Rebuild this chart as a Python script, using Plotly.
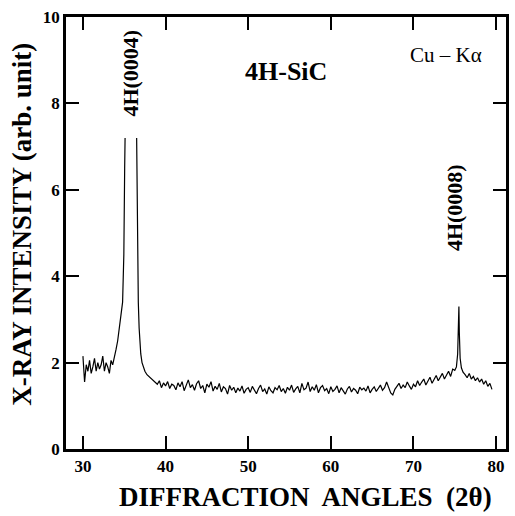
import plotly.graph_objects as go

# ---- data ----
left_angle = [30.0, 30.2, 30.4, 30.6, 30.8, 31.0, 31.2, 31.4, 31.6, 31.8, 32.0, 32.2, 32.4, 32.6,
              32.8, 33.0, 33.2, 33.4, 33.6, 33.8, 34.0, 34.2, 34.4, 34.6, 34.8, 34.95, 35.05, 35.1]
left_int = [2.15, 1.55, 1.95, 1.80, 2.05, 1.75, 1.90, 2.10, 1.80, 2.00, 1.85, 1.95, 2.15, 1.80,
            2.00, 1.90, 1.75, 2.05, 1.95, 2.10, 2.30, 2.50, 2.75, 3.10, 3.40, 4.50, 6.50, 7.20]

flank_angle = [36.5, 36.55, 36.6, 36.7, 36.8, 36.9, 37.0, 37.15, 37.3, 37.5, 37.75, 38.0, 38.25]
flank_int = [7.2, 5.5, 4.3, 3.4, 2.8, 2.45, 2.2, 2.0, 1.9, 1.8, 1.72, 1.68, 1.62]

bg_angle = [38.5, 38.75,
            39.0, 39.25, 39.5, 39.75, 40.0, 40.25, 40.5, 40.75, 41.0, 41.25, 41.5, 41.75,
            42.0, 42.25, 42.5, 42.75, 43.0, 43.25, 43.5, 43.75, 44.0, 44.25, 44.5, 44.75,
            45.0, 45.25, 45.5, 45.75, 46.0, 46.25, 46.5, 46.75, 47.0, 47.25, 47.5, 47.75,
            48.0, 48.25, 48.5, 48.75, 49.0, 49.25, 49.5, 49.75, 50.0, 50.25, 50.5, 50.75,
            51.0, 51.25, 51.5, 51.75, 52.0, 52.25, 52.5, 52.75, 53.0, 53.25, 53.5, 53.75,
            54.0, 54.25, 54.5, 54.75, 55.0, 55.25, 55.5, 55.75, 56.0, 56.25, 56.5, 56.75,
            57.0, 57.25, 57.5, 57.75, 58.0, 58.25, 58.5, 58.75, 59.0, 59.25, 59.5, 59.75,
            60.0, 60.25, 60.5, 60.75, 61.0, 61.25, 61.5, 61.75, 62.0, 62.25, 62.5, 62.75,
            63.0, 63.25, 63.5, 63.75, 64.0, 64.25, 64.5, 64.75, 65.0, 65.25, 65.5, 65.75,
            66.0, 66.25, 66.5, 66.75, 67.0, 67.25, 67.5, 67.75, 68.0, 68.25, 68.5, 68.75,
            69.0, 69.25, 69.5, 69.75, 70.0, 70.25, 70.5, 70.75, 71.0, 71.25, 71.5, 71.75,
            72.0, 72.25, 72.5, 72.75, 73.0, 73.25, 73.5, 73.75, 74.0, 74.25, 74.5, 74.75]
bg_int = [1.60, 1.55,
          1.50, 1.58, 1.42, 1.53, 1.46, 1.56, 1.40, 1.50, 1.47, 1.37, 1.53, 1.44,
          1.56, 1.35, 1.50, 1.60, 1.42, 1.49, 1.36, 1.51, 1.58, 1.40, 1.47, 1.30,
          1.50, 1.43, 1.56, 1.34, 1.45, 1.38, 1.52, 1.32, 1.44, 1.40, 1.27, 1.47,
          1.36, 1.43, 1.30, 1.41, 1.34, 1.46, 1.29, 1.38, 1.42, 1.31, 1.45, 1.36,
          1.28, 1.40, 1.48, 1.33, 1.39, 1.27, 1.44, 1.35, 1.30, 1.42, 1.37, 1.47,
          1.33, 1.40, 1.29, 1.43, 1.36, 1.48, 1.31, 1.39, 1.45, 1.30, 1.52, 1.37,
          1.41, 1.55, 1.33, 1.44, 1.36, 1.49, 1.30, 1.42, 1.47, 1.35, 1.40, 1.28,
          1.44, 1.33, 1.38, 1.46, 1.30, 1.42, 1.35, 1.27, 1.39, 1.45, 1.32, 1.40,
          1.36, 1.28, 1.43, 1.37, 1.41, 1.34, 1.46, 1.30, 1.38, 1.44, 1.33, 1.40,
          1.48, 1.36, 1.42, 1.55, 1.40, 1.30, 1.25, 1.38, 1.45, 1.52, 1.40, 1.48,
          1.42, 1.55, 1.46, 1.38, 1.50, 1.44, 1.58, 1.47, 1.55, 1.62, 1.48, 1.57,
          1.66, 1.52, 1.60, 1.70, 1.58, 1.68, 1.75, 1.62, 1.72, 1.80, 1.68, 1.85]

peak2_angle = [75.0, 75.2, 75.35, 75.45, 75.5, 75.55, 75.65, 75.8, 76.0,
               76.25, 76.5, 76.75, 77.0, 77.25, 77.5, 77.75, 78.0, 78.25, 78.5, 78.75,
               79.0, 79.25, 79.5]
peak2_int = [1.82, 1.90, 2.20, 2.90, 3.30, 2.70, 2.10, 1.88, 1.78,
             1.72, 1.65, 1.75, 1.62, 1.68, 1.58, 1.65, 1.55, 1.62, 1.50, 1.58,
             1.45, 1.52, 1.38]

x_ticks = [30, 40, 50, 60, 70, 80]
y_ticks = [0, 2, 4, 6, 8, 10]

xs = left_angle + [None] + flank_angle + bg_angle + peak2_angle
ys = left_int + [None] + flank_int + bg_int + peak2_int

SERIF = "Liberation Serif"

fig = go.Figure()
fig.add_trace(go.Scatter(x=xs, y=ys, mode="lines", connectgaps=False,
                         line=dict(color="black", width=1.2), showlegend=False))

axis_common = dict(showline=True, linewidth=2.5, linecolor="black", mirror="ticks",
                   ticks="inside", ticklen=13, tickwidth=2, tickcolor="black",
                   showgrid=False, zeroline=False,
                   tickfont=dict(family=SERIF, size=17, color="black"))

fig.update_xaxes(range=[27.95, 81.2], tickvals=x_ticks,
                 ticktext=[f"<b>{t}</b>" for t in x_ticks], **axis_common)
fig.update_yaxes(range=[0, 10], tickvals=y_ticks,
                 ticktext=[f"<b>{t}</b>" for t in y_ticks], **axis_common)

annots = [
    dict(text="<b>X-RAY INTENSITY (arb. unit)</b>", xref="paper", yref="paper",
         x=-0.099, y=0.52, textangle=-90, font=dict(family=SERIF, size=27)),
    dict(text="<b>DIFFRACTION  ANGLES  (2θ)</b>", xref="paper", yref="paper",
         x=0.544, y=-0.112, font=dict(family=SERIF, size=27)),
    dict(text="<b>4H-SiC</b>", xref="x", yref="y", x=54.6, y=8.73,
         font=dict(family=SERIF, size=26)),
    dict(text="Cu – Kα", xref="x", yref="y", x=73.9, y=9.12,
         font=dict(family=SERIF, size=21)),
    dict(text="<b>4H(0004)</b>", xref="x", yref="y", x=35.75, y=8.7, textangle=-90,
         font=dict(family=SERIF, size=22)),
    dict(text="<b>4H(0008)</b>", xref="x", yref="y", x=75.05, y=5.58, textangle=-90,
         font=dict(family=SERIF, size=22)),
]
for a in annots:
    a["showarrow"] = False
    a["xanchor"] = "center"
    a["yanchor"] = "middle"
    a["font"]["color"] = "black"
    fig.add_annotation(**a)

fig.update_layout(width=515, height=516, margin=dict(l=66, r=6, t=17, b=67),
                  plot_bgcolor="white", paper_bgcolor="white")

fig.write_html("out.html")
